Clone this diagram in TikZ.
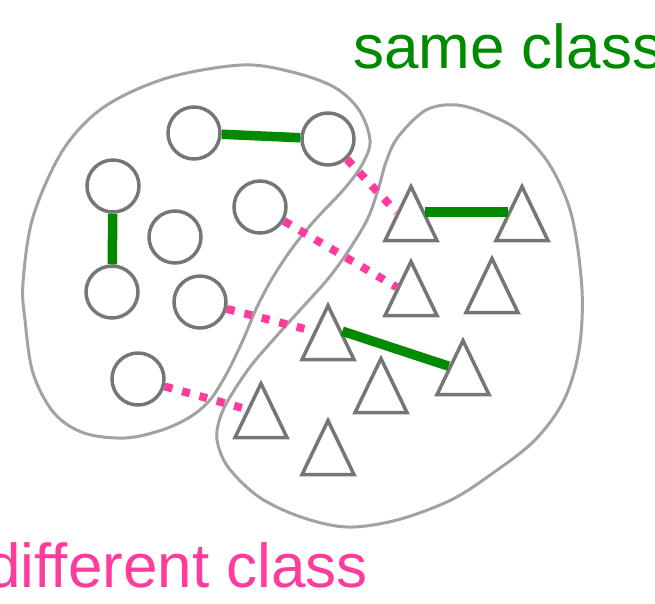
\documentclass[tikz,border=0pt]{standalone}
\usepackage{fontspec}
\setmainfont{Liberation Sans}
\usetikzlibrary{shapes.geometric}
\definecolor{shapegray}{HTML}{767676}
\definecolor{blobgray}{HTML}{A2A2A2}
\definecolor{linkgreen}{HTML}{008A00}
\definecolor{linkpink}{HTML}{FF3C9C}
\tikzset{
  blob/.style={draw=blobgray, line width=3pt},
  dot/.style={shape=circle, draw=shapegray, line width=3.5pt, minimum size=52pt, inner sep=0pt},
  tri/.style={shape=isosceles triangle, shape border rotate=90, isosceles triangle stretches,
    draw=shapegray, line width=3.5pt, minimum width=52pt, minimum height=54pt,
    inner sep=0pt, anchor=apex},
  samelink/.style={draw=linkgreen, line width=9.5pt},
  difflink/.style={draw=linkpink, line width=8pt, dash pattern=on 8pt off 10pt},
  caption/.style={font=\fontsize{62}{70}\selectfont, inner sep=0pt}
}
\begin{document}
\begin{tikzpicture}[x=1pt, y=-1pt]
\useasboundingbox (0,0) rectangle (655,603);

% the two class regions
\draw[blob] plot[smooth cycle, tension=0.55] coordinates {
  (242,65) (292,72) (334,87) (359,110) (370,140) (363,163) (345,188)
  (315,220) (293,247) (273,277) (257,307) (243,340) (227,373) (210,400)
  (190,417) (162,430) (125,438) (84,433) (54,413) (33,373) (25,320)
  (23,283) (33,217) (63,150) (104,107) (167,78)};
\draw[blob] plot[smooth cycle, tension=0.55] coordinates {
  (457,105) (490,115) (522,133) (551,167) (572,217) (582,290) (579,350)
  (564,400) (535,440) (493,473) (451,500) (397,520) (347,527) (301,517)
  (259,497) (228,467) (217,440) (220,418) (230,397) (250,367) (273,340)
  (300,310) (327,280) (347,253) (367,220) (378,190) (386,162) (398,137)
  (426,110)};

% circles
\node[dot] (c1) at (194,133) {};
\node[dot] (c2) at (328,139) {};
\node[dot] (c3) at (113,186) {};
\node[dot] (c4) at (175,237) {};
\node[dot] (c5) at (260,207) {};
\node[dot] (c6) at (112,292) {};
\node[dot] (c7) at (200,302) {};
\node[dot] (c8) at (138,379) {};

% triangles, placed by their apex
\node[tri] (t1) at (411,182) {};
\node[tri] (t2) at (522,182) {};
\node[tri] (t3) at (411,257) {};
\node[tri] (t4) at (492,254) {};
\node[tri] (t5) at (328,301) {};
\node[tri] (t6) at (381,354) {};
\node[tri] (t7) at (463,336) {};
\node[tri] (t8) at (261,379) {};
\node[tri] (t9) at (328,416) {};

% pairs of the same class
\draw[samelink] (c1) -- (c2);
\draw[samelink] (c3) -- (c6);
\draw[samelink] (t1.right side) -- (t2.left side);
\draw[samelink] (t5.right side) -- (t7.left side);

% pairs of different classes
\draw[difflink] (c2) -- (t1.left side);
\draw[difflink] (c5) -- (t3.left side);
\draw[difflink] (c7) -- (t5.left side);
\draw[difflink] (c8) -- (t8.left side);

% captions
\node[caption, text=linkgreen, anchor=base west] (same) at (353,68) {same class};
\node[caption, text=linkpink, anchor=base east] (diff) at (368,587) {different class};
\end{tikzpicture}
\end{document}
